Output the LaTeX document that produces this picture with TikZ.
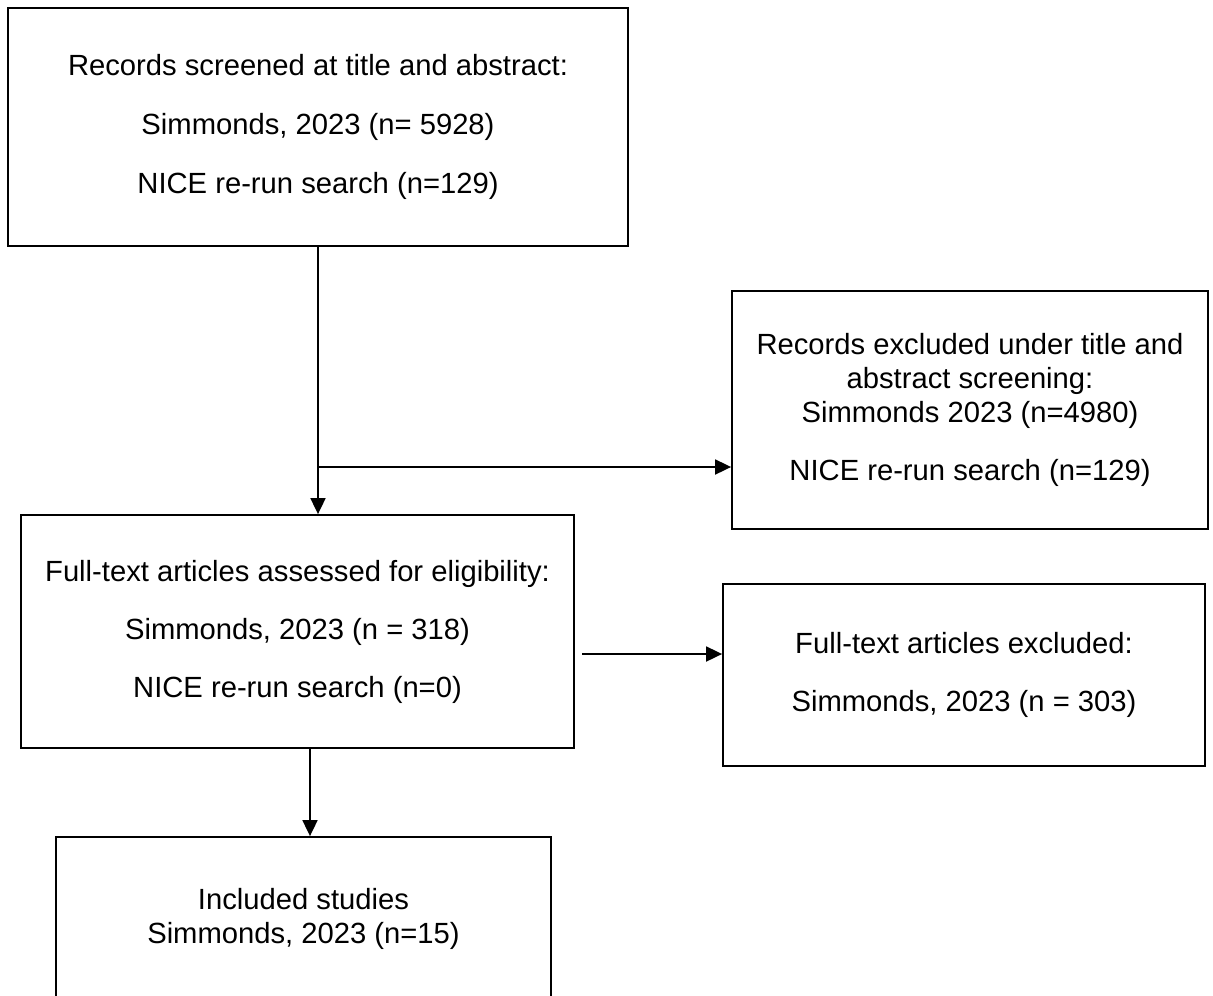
\documentclass[tikz,border=0pt]{standalone}
\usepackage{fontspec}
\setmainfont{Liberation Sans}
\usetikzlibrary{arrows.meta,positioning}

\begin{document}
\begin{tikzpicture}
  [x=0.5pt,y=-0.5pt,
    every node/.style={font=\fontsize{14.6pt}{17pt}\selectfont,align=center},
    box/.style={draw,line width=0.9pt,inner sep=0pt},
    arr/.style={line width=0.9pt,-{Triangle[length=8pt,width=7.5pt]}}]
  \useasboundingbox (0,0) rectangle (1213,995);
  \node[box,minimum width=310pt,minimum height=119pt] (rec) at (318,127)
    {Records screened at title and abstract:\\[12.5pt]Simmonds, 2023 (n= 5928)\\[12.5pt]NICE re-run search (n=129)};
  \node[box,minimum width=238pt,minimum height=119pt] (excl) at (970,410)
    {Records excluded under title and\\abstract screening:\\Simmonds 2023 (n=4980)\\[12pt]NICE re-run search (n=129)};
  \node[box,minimum width=276.5pt,minimum height=116.5pt] (full) at (297.5,631.5)
    {Full-text articles assessed for eligibility:\\[12pt]Simmonds, 2023 (n = 318)\\[12pt]NICE re-run search (n=0)};
  \node[box,minimum width=241pt,minimum height=91pt] (ftex) at (964,675)
    {Full-text articles excluded:\\[12pt]Simmonds, 2023 (n = 303)};
  \node[box,minimum width=247.5pt,minimum height=100pt] (inc) at (303.5,937) {};
  \node[inner sep=0pt,below=26pt of inc.north] (inctext) {Included studies\\Simmonds, 2023 (n=15)};
  \coordinate (br) at (318,467);
  \coordinate (ft) at (582,654);
  \coordinate (fi) at (310,748);
  \draw[arr] (rec.south) -- (rec.south |- full.north);
  \draw[arr] (br) -- (br -| excl.west);
  \draw[arr] (ft) -- (ft -| ftex.west);
  \draw[arr] (fi) -- (fi |- inc.north);
\end{tikzpicture}
\end{document}
